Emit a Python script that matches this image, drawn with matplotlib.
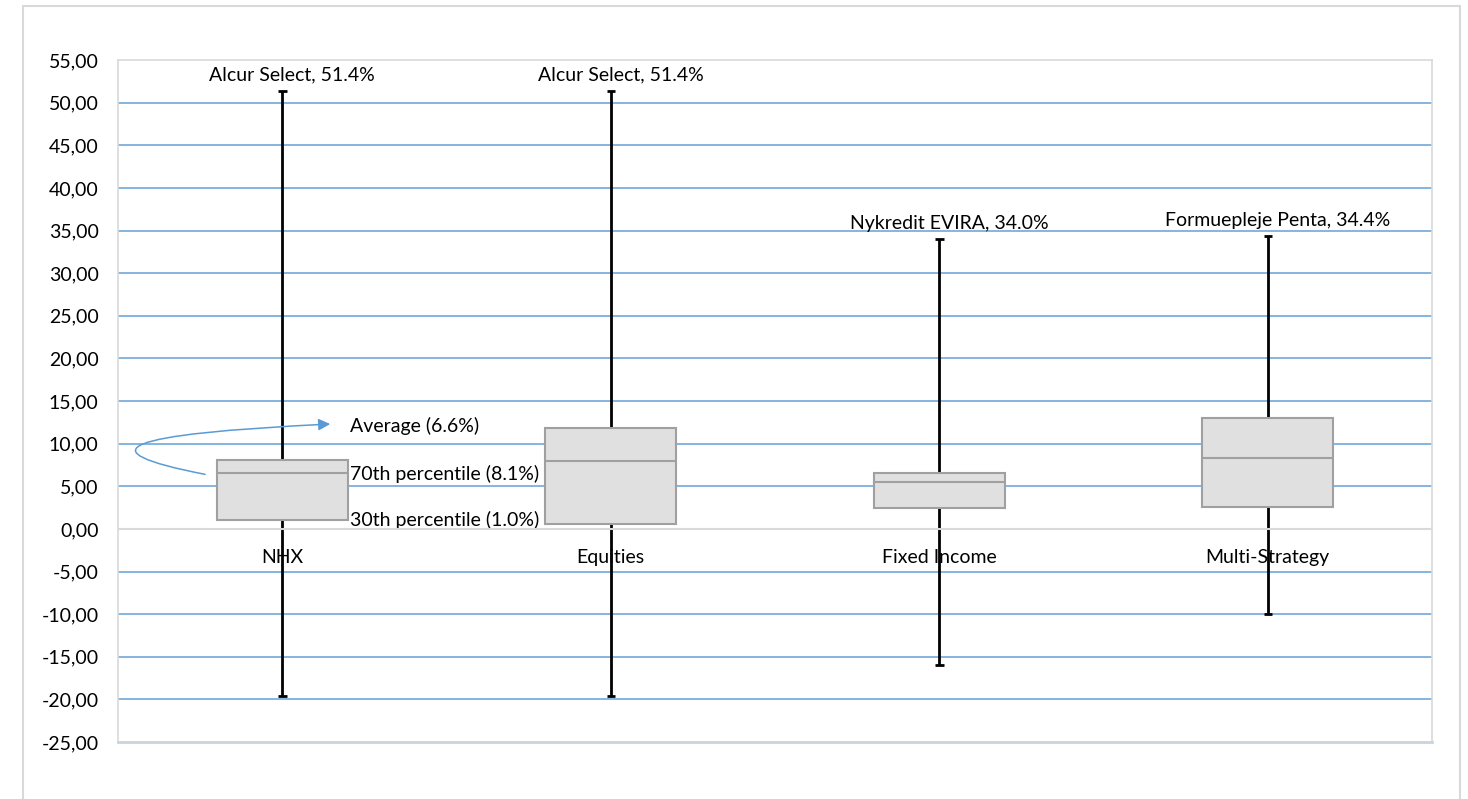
import numpy as np
import matplotlib.pyplot as plt
from matplotlib.patches import Rectangle, FancyArrowPatch
from matplotlib.path import Path
from matplotlib.ticker import FuncFormatter, MultipleLocator

plt.rcParams['font.family'] = ['Lato', 'DejaVu Sans']

# data (returns in %)
categories = ['NHX', 'Equities', 'Fixed Income', 'Multi-Strategy']
lows = [-19.6, -19.6, -16.0, -10.0]
highs = [51.4, 51.4, 34.0, 34.4]
p30 = [1.0, 0.6, 2.5, 2.6]
p70 = [8.1, 11.8, 6.6, 13.0]
avg = [6.6, 8.0, 5.5, 8.3]
top_labels = ['Alcur Select, 51.4%', 'Alcur Select, 51.4%',
              'Nykredit EVIRA, 34.0%', 'Formuepleje Penta, 34.4%']

BLUE = '#6FA8DC'
GRAY_LINE = '#D9D9D9'
FS = 14

fig = plt.figure(figsize=(14.68, 7.99), dpi=100)
ax = fig.add_axes([0.0804, 0.0713, 0.8951, 0.8536])

# outer chart frame
fig.patches.append(Rectangle((0.0157, -0.02), 0.979, 1.0125, transform=fig.transFigure,
                             fill=False, edgecolor='#D9D9D9', lw=1.5))

x = np.arange(len(categories))
p30 = np.array(p30)
p70 = np.array(p70)
width = 0.4

# whiskers + caps
ax.vlines(x, lows, highs, color='black', lw=2, zorder=3)
ax.hlines(lows, x - 0.013, x + 0.013, color='black', lw=2, zorder=3)
ax.hlines(highs, x - 0.013, x + 0.013, color='black', lw=2, zorder=3)

# boxes
ax.bar(x, p70 - p30, width=width, bottom=p30, color='#E0E0E0',
       edgecolor='#A0A0A0', lw=1.5, zorder=4)
ax.hlines(avg, x - width / 2, x + width / 2, color='#A0A0A0', lw=1.5, zorder=5)

# zero axis line
ax.axhline(0, color=GRAY_LINE, lw=1.5, zorder=6)

for i, cat in enumerate(categories):
    ax.text(x[i], -3.3, cat, ha='center', va='center', fontsize=FS, zorder=7)
    ax.annotate(top_labels[i], (x[i], highs[i]), xytext=(7, 5),
                textcoords='offset points', ha='center', va='bottom', fontsize=FS)

# explanation labels on first box
xr = x[0] + width / 2 + 0.006
ax.text(xr, 12.1, 'Average (%.1f%%)' % avg[0], ha='left', va='center', fontsize=FS)
ax.text(xr, avg[0] - 0.1, '70th percentile (%.1f%%)' % p70[0], ha='left', va='center', fontsize=FS)
ax.text(xr, p30[0] + 0.1, '30th percentile (%.1f%%)' % p30[0], ha='left', va='center', fontsize=FS)

# curved arrow pointing at the Average label
verts = [(x[0] - 0.235, avg[0] - 0.2), (x[0] - 0.8, 10.6), (xr - 0.06, 12.3)]
arrow = FancyArrowPatch(path=Path(verts, [Path.MOVETO, Path.CURVE3, Path.CURVE3]),
                        arrowstyle='-|>,head_length=7,head_width=3.5',
                        color='#5B9BD5', lw=1.1, clip_on=False, zorder=6)
ax.add_patch(arrow)

ax.set_xlim(-0.5, len(categories) - 0.5)
ax.set_ylim(-25, 55)
ax.yaxis.set_major_locator(MultipleLocator(5))
ax.yaxis.set_major_formatter(FuncFormatter(lambda v, p: ('%.2f' % v).replace('.', ',')))
ax.set_xticks([])
ax.tick_params(axis='y', length=0, pad=14, labelsize=FS)

for v in np.arange(-20, 55, 5):
    if v != 0:
        ax.axhline(v, color=BLUE, lw=1.2, zorder=1)

for side in ['top', 'right', 'left']:
    ax.spines[side].set_color(GRAY_LINE)
    ax.spines[side].set_linewidth(1.2)
ax.spines['bottom'].set_color('#CAD3DE')
ax.spines['bottom'].set_linewidth(2)

plt.savefig('out.png', dpi=100)
